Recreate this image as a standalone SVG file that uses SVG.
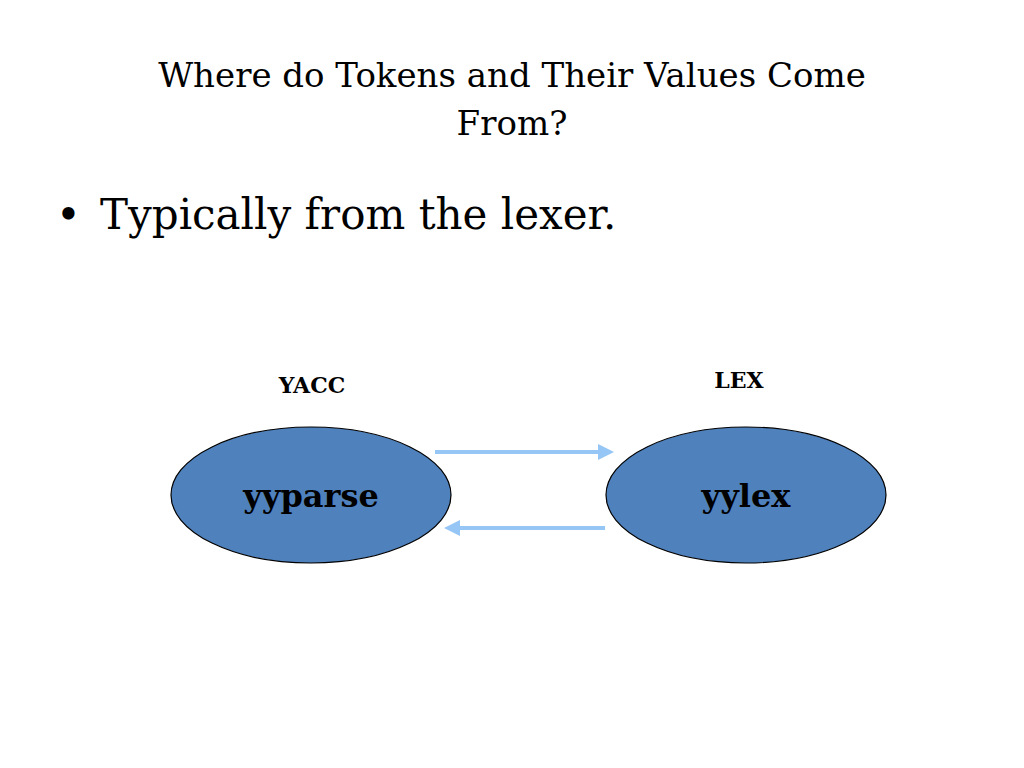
<svg xmlns="http://www.w3.org/2000/svg" width="1024" height="768" viewBox="0 0 1024 768">
<style>
text{font-family:"DejaVu Serif","Liberation Serif",serif;fill:#000}
.n{fill:#4f81bd;stroke:#000;stroke-width:1.2}
.c{stroke:#95c6f5;stroke-width:4;fill:none}
.b{font-weight:bold}
</style>
<defs><marker id="a" markerWidth="4" markerHeight="4" refX="2" refY="2" orient="auto" markerUnits="strokeWidth"><path d="M0,0L4,2L0,4Z" fill="#95c6f5"/></marker></defs>
<rect width="1024" height="768" fill="#fff"/>
<text x="512" y="87" font-size="34" text-anchor="middle">Where do Tokens and Their Values Come</text>
<text x="512" y="135" font-size="34" text-anchor="middle">From?</text>
<text x="56" y="229" font-size="42">•</text>
<text x="100" y="229" font-size="42">Typically from the lexer.</text>
<text x="312" y="393" font-size="22" class="b" text-anchor="middle">YACC</text>
<text x="739" y="388" font-size="22" class="b" text-anchor="middle">LEX</text>
<g id="connectors">
<line class="c" x1="435" y1="452" x2="606" y2="452" marker-end="url(#a)"/>
<line class="c" x1="605" y1="528" x2="452" y2="528" marker-end="url(#a)"/>
</g>
<g id="yyparse"><ellipse class="n" cx="311" cy="495" rx="140" ry="68"/><text x="311" y="507" font-size="32" class="b" text-anchor="middle">yyparse</text></g>
<g id="yylex"><ellipse class="n" cx="746" cy="495" rx="140" ry="68"/><text x="746" y="507" font-size="32" class="b" text-anchor="middle">yylex</text></g>
</svg>
